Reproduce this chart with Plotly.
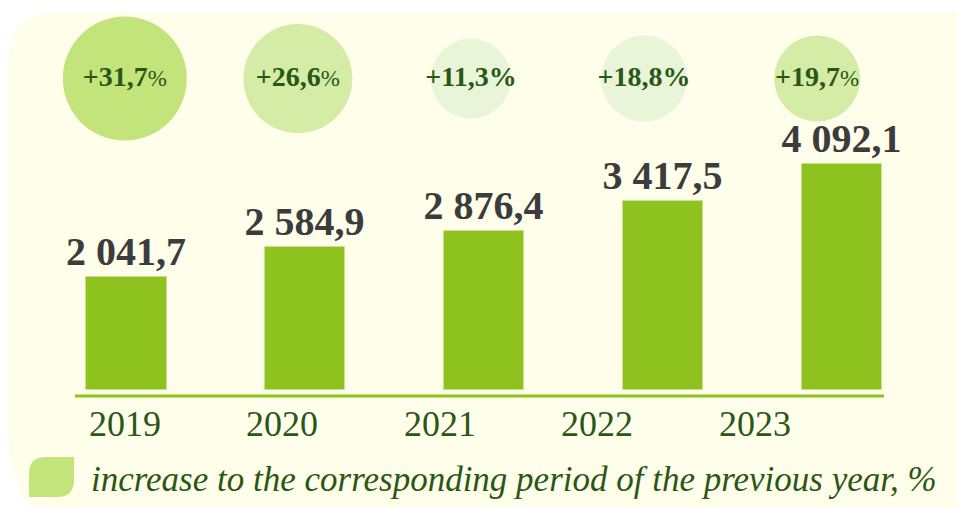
import plotly.graph_objects as go

# ---- data ----
years = ["2019", "2020", "2021", "2022", "2023"]
values = [2041.7, 2584.9, 2876.4, 3417.5, 4092.1]
growth = [31.7, 26.6, 11.3, 18.8, 19.7]
legend_label = "increase to the corresponding period of the previous year, %"

# ---- styles ----
W, H = 957, 507
bar_color = "#8DC21F"
bg_color = "#FEFEEB"
circle_colors = ["#C3E47B", "#D5ECA6", "#E8F5D9", "#E8F5D9", "#D5ECA6"]
circle_sizes = [124, 109, 80, 86, 86]
pct_bold = [False, False, True, True, False]
green_text = "#2B5714"
value_text = "#3C3C3C"


def fmt(v):
    return f"{v:,.1f}".replace(",", " ").replace(".", ",")


def px_x(p):
    return p / W


def px_y(p):
    return 1 - p / H


def path(points_cmds):
    out = []
    for cmd, pts in points_cmds:
        coords = " ".join(f"{px_x(x):.5f},{px_y(y):.5f}" for x, y in pts)
        out.append(f"{cmd} {coords}")
    return " ".join(out) + " Z"


idx = list(range(len(years)))

fig = go.Figure()

# bars
fig.add_trace(go.Bar(
    x=idx, y=values, width=0.447,
    marker=dict(color=bar_color, line=dict(color="#C9E28C", width=1)),
    text=[fmt(v) for v in values], textposition="outside",
    textfont=dict(family="Liberation Serif", size=40, color=value_text, weight="bold"),
    constraintext="none", cliponaxis=False, hoverinfo="skip",
))

# growth circles
circle_text = []
for g, b in zip(growth, pct_bold):
    num = f"{g:+.1f}".replace(".", ",")
    if b:
        circle_text.append(f"<b>{num}%</b>")
    else:
        circle_text.append(f"<b>{num}</b><span style='font-size:23px'>%</span>")

fig.add_trace(go.Scatter(
    x=idx, y=[0.845] * len(idx), xaxis="x3", yaxis="y2",
    mode="markers+text",
    marker=dict(size=circle_sizes, color=circle_colors, opacity=1, line=dict(width=0)),
    text=circle_text, textposition="middle center",
    textfont=dict(family="Liberation Serif", size=28, color=green_text),
    cliponaxis=False, hoverinfo="skip",
))

shapes = [
    # background panel with rounded left corners
    dict(type="path", xref="paper", yref="paper", layer="below",
         path=path([("M", [(8, 62)]), ("Q", [(8, 12), (58, 12)]), ("L", [(980, 12)]),
                    ("L", [(980, 540)]), ("L", [(100, 540)]), ("Q", [(8, 535), (8, 425)])]),
         fillcolor=bg_color, line=dict(width=0)),
    # baseline
    dict(type="line", xref="paper", yref="paper", x0=px_x(75), x1=px_x(884),
         y0=px_y(396), y1=px_y(396), line=dict(color=bar_color, width=3)),
    # legend leaf
    dict(type="path", xref="paper", yref="paper",
         path=path([("M", [(29, 474)]), ("Q", [(29, 457), (46, 457)]), ("L", [(74, 457)]),
                    ("L", [(74, 480)]), ("Q", [(74, 497), (57, 497)]), ("L", [(29, 497)])]),
         fillcolor="#C3E47B", line=dict(width=0)),
]

annotations = [
    dict(x=i, y=px_y(424), xref="x2", yref="paper", text=y, showarrow=False,
         font=dict(family="Liberation Serif", size=36, color=green_text),
         xanchor="center", yanchor="middle")
    for i, y in zip(idx, years)
]
annotations.append(dict(
    x=px_x(89), y=px_y(479), xref="paper", yref="paper", text=f"<i>{legend_label}</i>",
    showarrow=False, xanchor="left", yanchor="middle",
    font=dict(family="Liberation Serif", size=35, color=green_text)))

fig.update_layout(
    width=W, height=H, margin=dict(l=0, r=0, t=0, b=0),
    paper_bgcolor="white", plot_bgcolor="rgba(0,0,0,0)",
    showlegend=False, bargap=0,
    xaxis=dict(range=[-0.7067, 4.640], visible=False, fixedrange=True),
    xaxis2=dict(range=[-0.792, 5.284], visible=False, overlaying="x", fixedrange=True),
    xaxis3=dict(range=[-0.721, 4.808], visible=False, overlaying="x", fixedrange=True),
    yaxis=dict(range=[-2118, 7061], visible=False, fixedrange=True),
    yaxis2=dict(range=[0, 1], visible=False, overlaying="y", fixedrange=True),
    shapes=shapes, annotations=annotations,
)

fig.write_html("out.html", config={"displayModeBar": False},
               post_script="document.body.style.margin='0px';")
